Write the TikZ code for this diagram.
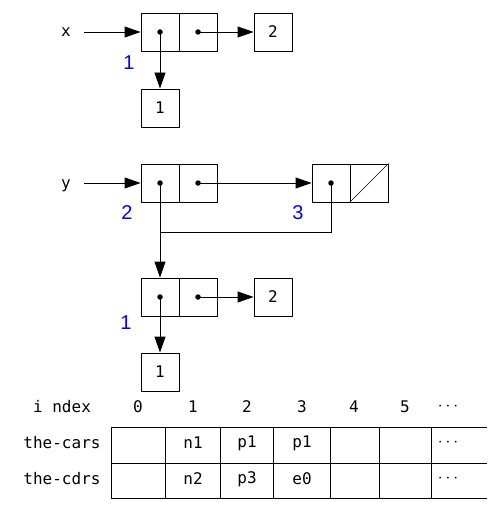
\documentclass[tikz,border=0pt]{standalone}
\usepackage{fontspec}
\setmonofont{DejaVu Sans Mono}
\newfontfamily\bluefont{Liberation Sans}
\usetikzlibrary{arrows.meta}
\begin{document}
\begin{tikzpicture}[x=1pt,y=-1pt,
  cell/.style={draw,line width=0.9pt,minimum width=38pt,minimum height=38pt,inner sep=0pt,font=\ttfamily\fontsize{16}{16}\selectfont},
  lbl/.style={inner sep=0pt,font=\ttfamily\fontsize{16}{16}\selectfont},
  num/.style={inner sep=0pt,text=blue,font=\bluefont\fontsize{20}{20}\selectfont},
  ptr/.style={line width=0.9pt,-{Triangle[length=16pt,width=11pt]}},
  wire/.style={line width=0.9pt},
  dot/.style={circle,fill,inner sep=0pt,minimum size=5.5pt}]
\useasboundingbox (0,0) rectangle (500,513);
% top structure
\node[lbl,anchor=base] (xl) at (66,37) {x};
\coordinate (xs) at (84,32);
\node[cell] (ta) at (160,32) {};
\node[cell] (td) at (198,32) {};
\node[cell] (t2) at (273,32) {2};
\node[cell] (t1) at (160,108) {1};
\node[num] (n1a) at (129,63) {1};
\node[dot] (tad) at (ta.center) {};
\node[dot] (tdd) at (td.center) {};
\draw[ptr] (xs) -- (ta.west);
\draw[ptr] (tdd.center) -- (t2.west);
\draw[ptr] (tad.center) -- (t1.north);
% middle structure
\node[lbl,anchor=base] (yl) at (66,188) {y};
\coordinate (ys) at (84,183);
\node[cell] (ma) at (160,183) {};
\node[cell] (md) at (198,183) {};
\node[cell] (ra) at (331,183) {};
\node[cell] (rd) at (369,183) {};
\draw[line width=0.6pt] (rd.south west) -- (rd.north east);
\node[dot] (mad) at (ma.center) {};
\node[dot] (mdd) at (md.center) {};
\node[dot] (rad) at (ra.center) {};
\node[num] (n2) at (127,213) {2};
\node[num] (n3) at (298,213) {3};
\draw[ptr] (ys) -- (ma.west);
\draw[ptr] (mdd.center) -- (ra.west);
\node[cell] (la) at (160,297) {};
\node[cell] (ld) at (198,297) {};
\node[cell] (l2) at (273,297) {2};
\node[cell] (l1) at (160,372) {1};
\node[dot] (lad) at (la.center) {};
\node[dot] (ldd) at (ld.center) {};
\node[num] (n1b) at (126,323) {1};
\coordinate (j) at (160,232);
\draw[ptr] (mad.center) -- (la.north);
\draw[wire] (rad.center) |- (j);
\draw[ptr] (ldd.center) -- (l2.west);
\draw[ptr] (lad.center) -- (l1.north);
% table
\node[lbl] (hidx) at (62,407) {i ndex};
\node[lbl] (hcar) at (62,443) {the-cars};
\node[lbl] (hcdr) at (62,479) {the-cdrs};
\foreach \x/\t/\n in {138/0/h0,193/1/h1,247/2/h2,302/3/h3,354/4/h4,405/5/h5,448/{$\cdots$}/h6}
  \node[lbl] (\n) at (\x,407) {\t};
\draw[wire] (111,427) -- (487,427);
\draw[wire] (111,463) -- (487,463);
\draw[wire] (111,498) -- (487,498);
\foreach \x in {111,165,220,273,330,379,431}
  \draw[wire] (\x,427) -- (\x,498);
\node[lbl] (c1) at (193,443) {n1};
\node[lbl] (c2) at (247,443) {p1};
\node[lbl] (c3) at (302,443) {p1};
\node[lbl] (c6) at (448,443) {$\cdots$};
\node[lbl] (d1) at (193,479) {n2};
\node[lbl] (d2) at (247,479) {p3};
\node[lbl] (d3) at (302,479) {e0};
\node[lbl] (d6) at (448,479) {$\cdots$};
\end{tikzpicture}
\end{document}
